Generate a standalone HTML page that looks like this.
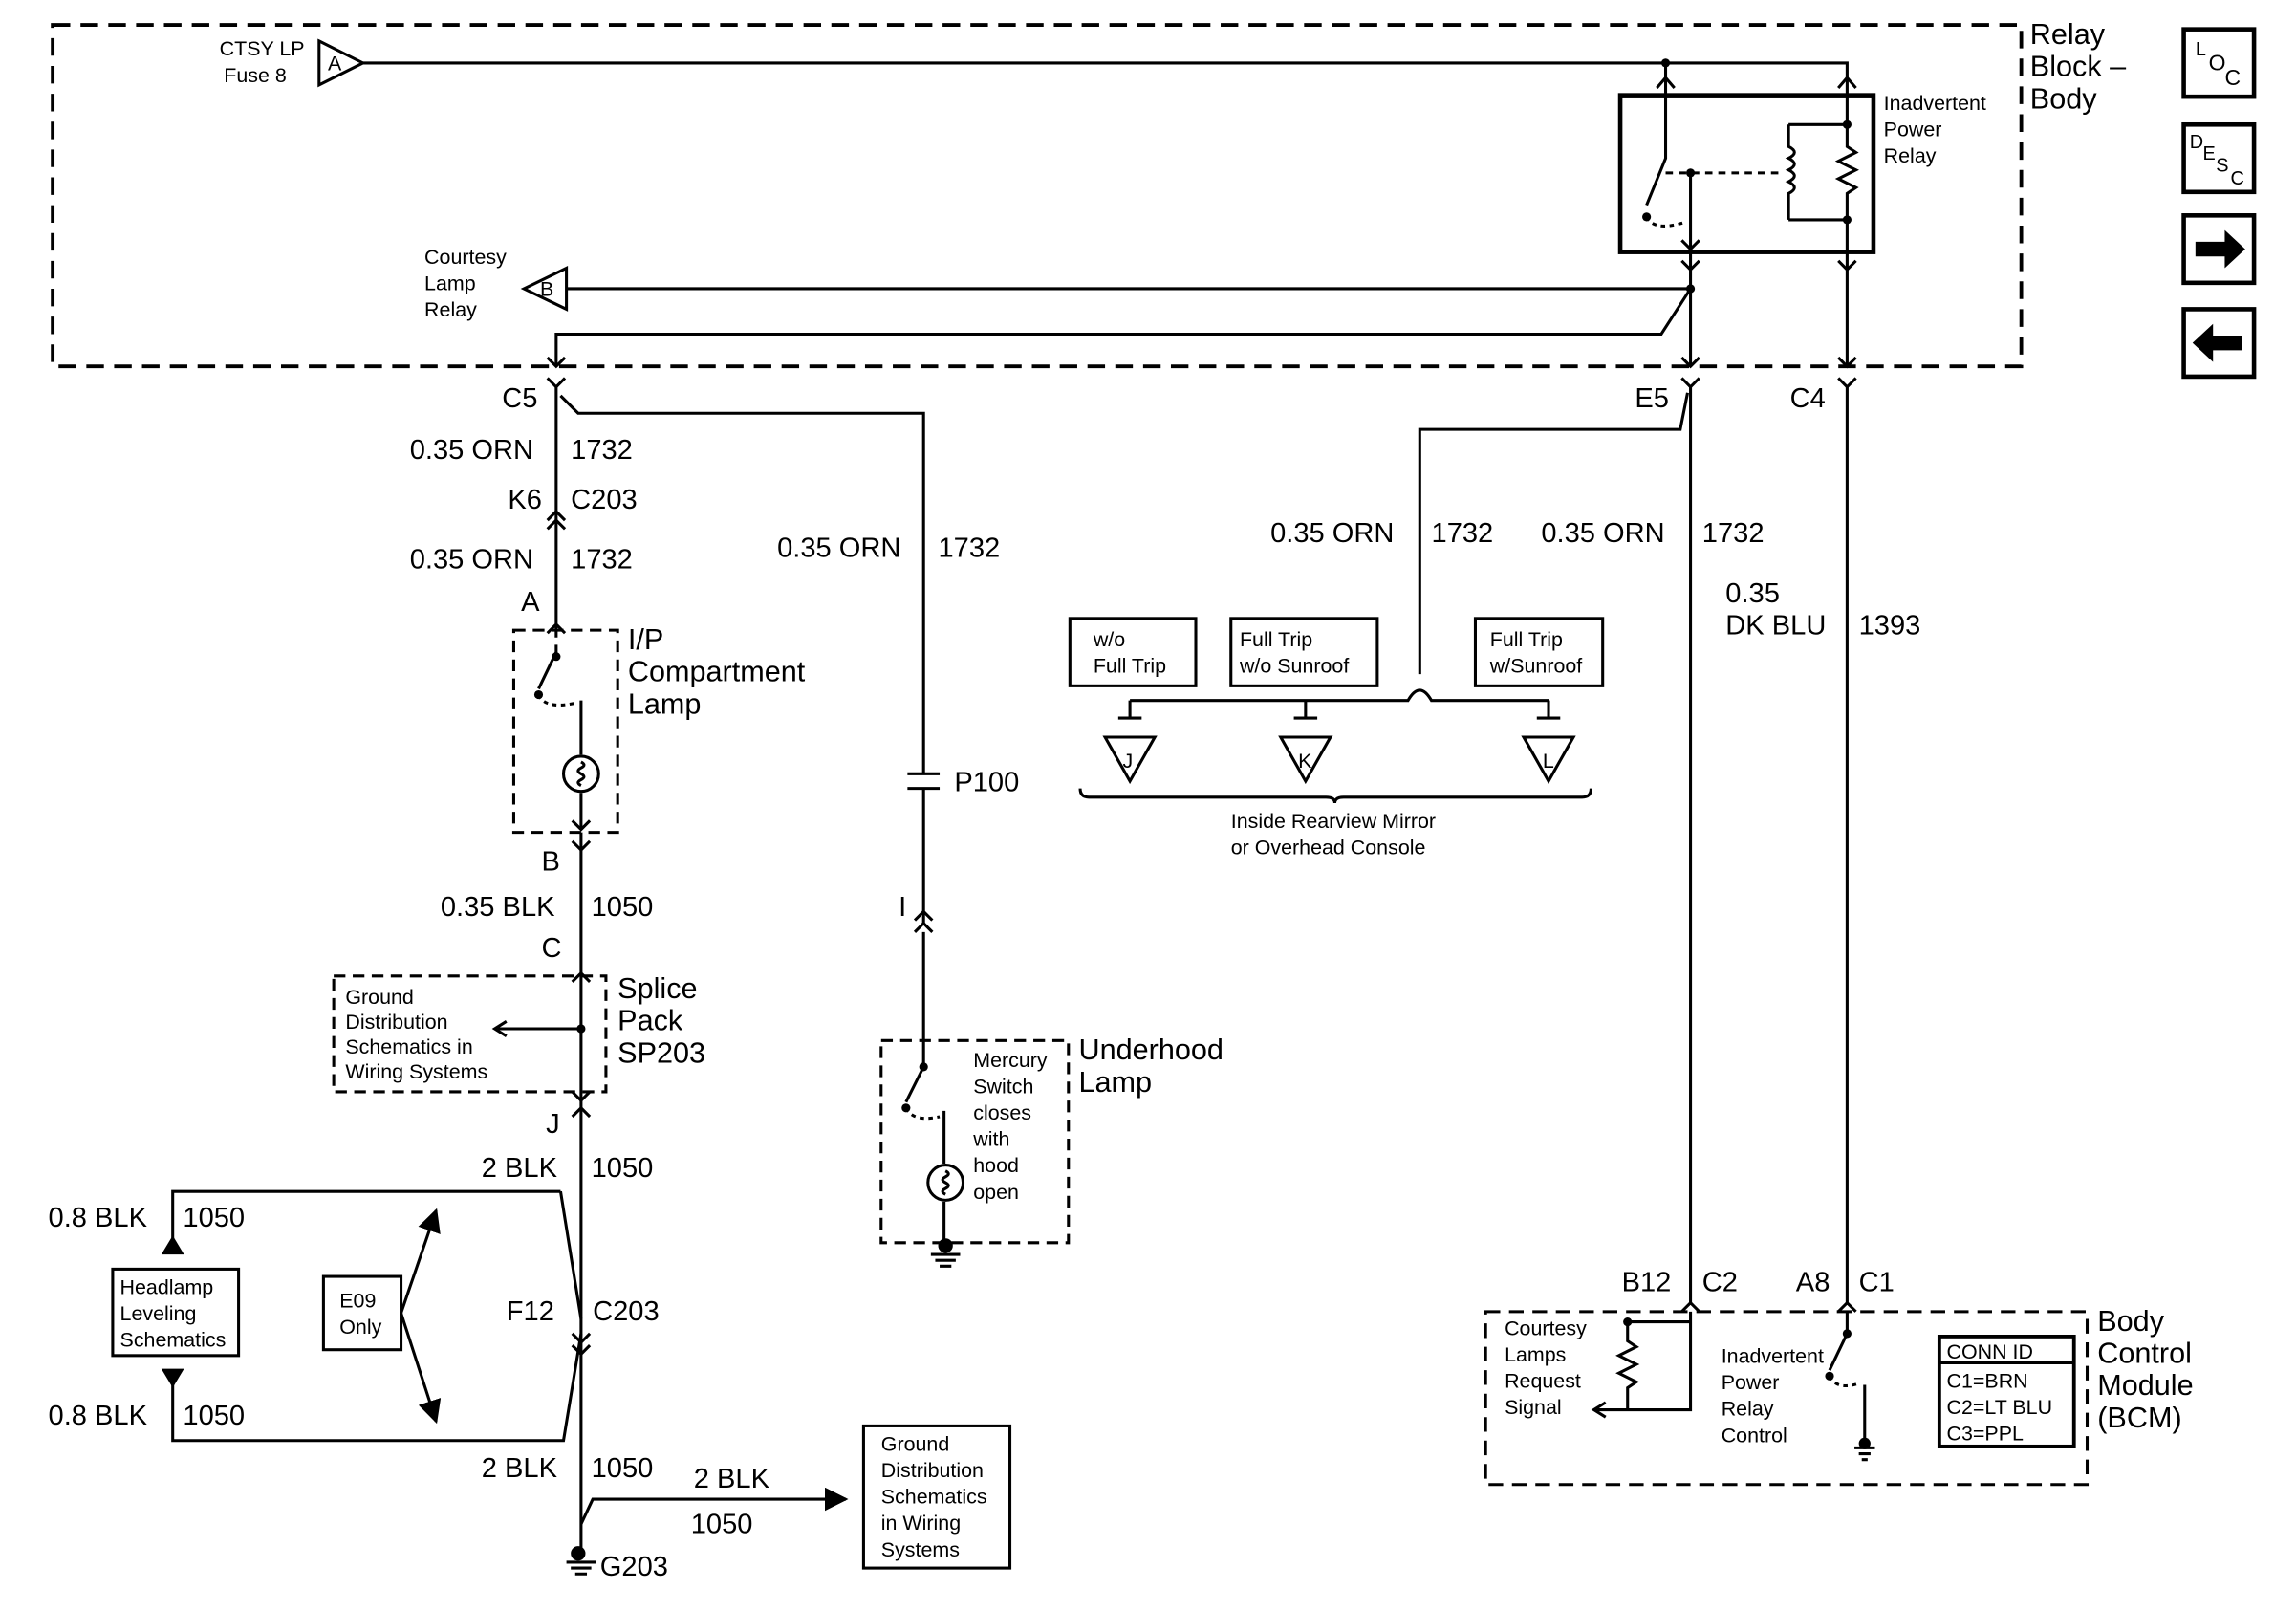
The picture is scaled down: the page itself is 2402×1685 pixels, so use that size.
<!DOCTYPE html>
<html><head><meta charset="utf-8"><style>
html,body{margin:0;padding:0;background:#fff}
svg{display:block}
text{font-family:"Liberation Sans",Arial,sans-serif;fill:#000}
.s{font-size:14px}.m{font-size:19px}.l{font-size:20px}
</style></head><body>
<svg width="2402" height="1685" viewBox="0 0 1553 1096" preserveAspectRatio="none" xmlns="http://www.w3.org/2000/svg">
<defs>
<marker id="ar" viewBox="0 0 10 10" refX="9" refY="5" markerWidth="8" markerHeight="8" orient="auto"><path d="M0,0L10,5L0,10z"/></marker>
</defs>
<g transform="scale(0.99,0.997)">
<g fill="none" stroke="#000" stroke-width="2">
<rect x="36" y="17" width="1345" height="233" stroke-dasharray="12,7" stroke-width="2.5"/>
<path d="M218,28L248,43L218,58z"/>
<path d="M248,43H1262V65M1138,43V65"/>
<path d="M1132,60L1138,53L1144,60M1256,60L1262,53L1268,60"/>
<rect x="1107" y="65" width="173" height="107" stroke-width="3"/>
<path d="M1138,65V108L1125,140"/>
<path d="M1125,148Q1130,158 1150,152" stroke-dasharray="3,3"/>
<path d="M1155,118V170M1149,164L1155,170L1161,164"/>
<path d="M1138,118H1218" stroke-dasharray="5,4"/>
<path d="M1222,85V100q8,4 0,8q8,4 0,8q8,4 0,8q8,4 0,8V150M1222,85H1262M1222,150H1262"/>
<path d="M1262,65V100l6,4l-12,6l12,6l-12,6l12,6l-6,4V172"/>
<path d="M1155,172V250M1262,172V250"/>
<path d="M1149,178L1155,184L1161,178M1256,178L1262,184L1268,178"/>
<path d="M358,197L387,183V211z"/>
<path d="M387,197H1155"/>
<path d="M1155,197L1135,228H380V250"/>
<path d="M374,244L380,250L386,244M1149,244L1155,250L1161,244M1256,244L1262,250L1268,244"/>
<path d="M374,258L380,264L386,258M1149,258L1155,264L1161,258M1256,258L1262,264L1268,258"/>
<path d="M380,264V425M383,270L395,282H631V528M631,538V630M631,636V728"/>
<path d="M374,355L380,349L386,355M374,361L380,355L386,361"/>
<path d="M1262,264V890"/>
<path d="M1155,264V890M1153,268L1148,293H970V460"/>
<rect x="731" y="422" width="86" height="46"/>
<rect x="841" y="422" width="100" height="46"/>
<rect x="1008" y="422" width="87" height="46"/>
<path d="M772,478H962q8,-14 16,0H1058"/>
<path d="M772,478V490M764,490H780M892,478V490M884,490H900M1058,478V490M1050,490H1066"/>
<path d="M755,503L789,503L772,533z M875,503L909,503L892,533z M1041,503L1075,503L1058,533z"/>
<path d="M738,538q0,6 6,6H906q6,0 6,4q0,-4 6,-4H1081q6,0 6,-6"/>
<rect x="351" y="430" width="71" height="138" stroke-dasharray="8,5"/>
<path d="M380,425V435M374,432L380,426L386,432M380,440V445L368,470M397,478V515M397,541V566M391,560L397,566L403,560"/>
<path d="M368,474Q372,484 392,480" stroke-dasharray="3,3"/>
<circle cx="397" cy="528" r="12"/>
<path d="M397,520q4,2 0,4q-4,2 0,4q4,2 0,4q-4,2 0,4"/>
<path d="M397,568V1062"/>
<path d="M391,574L397,580L403,574M391,670L397,664L403,670M391,745L397,751L403,745M391,762L397,756L403,762M391,910L397,916L403,910M391,918L397,924L403,918"/>
<rect x="228" y="666" width="186" height="79" stroke-dasharray="8,5"/>
<path d="M397,702H340M346,697L338,702L346,707"/>
<path d="M383,813H118V850M383,813L397,900M397,910L385,983H118V935"/>
<path d="M112,855L118,845L124,855z M112,935L118,945L124,935z" fill="#000"/>
<rect x="77" y="866" width="86" height="59"/>
<rect x="221" y="871" width="53" height="50"/>
<path d="M274,896L298,826" marker-end="url(#ar)"/>
<path d="M274,896L298,970" marker-end="url(#ar)"/>
<path d="M397,1040L405,1023H578" marker-end="url(#ar)"/>
<rect x="590" y="973" width="100" height="97"/>
<path d="M387,1066H407M390,1070H404M393,1074H401"/>
<path d="M620,528H642M620,538H642"/>
<path d="M625,628L631,622L637,628M625,636L631,630L637,636"/>
<rect x="602" y="710" width="128" height="138" stroke-dasharray="8,5"/>
<path d="M631,728L619,752M645,758V794M645,820V846"/>
<path d="M619,756Q624,766 642,762" stroke-dasharray="3,3"/>
<circle cx="646" cy="807" r="12"/>
<path d="M646,799q4,2 0,4q-4,2 0,4q4,2 0,4q-4,2 0,4"/>
<path d="M636,856H656M639,860H653M642,864H650"/>
<rect x="1015" y="895" width="411" height="118" stroke-dasharray="10,6"/>
<path d="M1149,895L1155,889L1161,895M1256,895L1262,889L1268,895"/>
<path d="M1155,895V962H1090M1097,957L1089,962L1097,967M1155,902H1112V915l6,4l-12,6l12,6l-12,6l12,6l-6,4V962"/>
<path d="M1262,895V910L1250,935M1274,945V986"/>
<path d="M1250,939Q1255,949 1270,944" stroke-dasharray="3,3"/>
<path d="M1267,988H1281M1270,992H1278M1272,996H1276"/>
<rect x="1325" y="912" width="92" height="75" stroke-width="2.5"/>
<path d="M1325,930H1417"/>
<rect x="1492" y="20" width="48" height="46" stroke-width="3"/>
<rect x="1492" y="85" width="48" height="46" stroke-width="3"/>
<rect x="1492" y="147" width="48" height="46" stroke-width="3"/>
<rect x="1492" y="211" width="48" height="46" stroke-width="3"/>
</g>
<g fill="#000">
<circle cx="1138" cy="43" r="3"/><circle cx="1125" cy="148" r="3"/><circle cx="1155" cy="118" r="3"/>
<circle cx="1262" cy="85" r="3"/><circle cx="1262" cy="150" r="3"/><circle cx="1155" cy="197" r="3"/>
<circle cx="380" cy="448" r="3"/><circle cx="368" cy="474" r="3"/><circle cx="397" cy="702" r="3"/>
<circle cx="631" cy="728" r="3"/><circle cx="619" cy="756" r="3"/><circle cx="1112" cy="902" r="3"/>
<circle cx="1262" cy="910" r="3"/><circle cx="1250" cy="939" r="3"/>
<circle cx="395" cy="1060" r="5"/><circle cx="646" cy="850" r="5"/><circle cx="1274" cy="985" r="4"/>
<path d="M1500,165H1520V157L1534,170L1520,183V175H1500z"/>
<path d="M1532,229H1512V221L1498,234L1512,247V239H1532z"/>
</g>
<text class="s" x="150" y="38">CTSY LP</text><text class="s" x="153" y="56">Fuse 8</text>
<text class="s" x="224" y="48">A</text><text class="s" x="369" y="202">B</text>
<text class="s" x="290" y="180">Courtesy</text><text class="s" x="290" y="198">Lamp</text><text class="s" x="290" y="216">Relay</text>
<text class="s" x="1287" y="75">Inadvertent</text><text class="s" x="1287" y="93">Power</text><text class="s" x="1287" y="111">Relay</text>
<text class="l" x="1387" y="30">Relay</text><text class="l" x="1387" y="52">Block –</text><text class="l" x="1387" y="74">Body</text>
<text class="m" x="343" y="278">C5</text><text class="m" x="1117" y="278">E5</text><text class="m" x="1223" y="278">C4</text>
<text class="m" x="280" y="313">0.35 ORN</text><text class="m" x="390" y="313">1732</text>
<text class="m" x="347" y="347">K6</text><text class="m" x="390" y="347">C203</text>
<text class="m" x="280" y="388">0.35 ORN</text><text class="m" x="390" y="388">1732</text>
<text class="m" x="531" y="380">0.35 ORN</text><text class="m" x="641" y="380">1732</text>
<text class="m" x="868" y="370">0.35 ORN</text><text class="m" x="978" y="370">1732</text>
<text class="m" x="1053" y="370">0.35 ORN</text><text class="m" x="1163" y="370">1732</text>
<text class="m" x="1179" y="411">0.35</text><text class="m" x="1179" y="433">DK BLU</text><text class="m" x="1270" y="433">1393</text>
<text class="s" x="747" y="441">w/o</text><text class="s" x="747" y="459">Full Trip</text>
<text class="s" x="847" y="441">Full Trip</text><text class="s" x="847" y="459">w/o Sunroof</text>
<text class="s" x="1018" y="441">Full Trip</text><text class="s" x="1018" y="459">w/Sunroof</text>
<text class="s" x="767" y="524">J</text><text class="s" x="887" y="524">K</text><text class="s" x="1054" y="524">L</text>
<text class="s" x="841" y="565">Inside Rearview Mirror</text><text class="s" x="841" y="583">or Overhead Console</text>
<text class="m" x="356" y="417">A</text>
<text class="l" x="429" y="443">I/P</text><text class="l" x="429" y="465">Compartment</text><text class="l" x="429" y="487">Lamp</text>
<text class="m" x="370" y="594">B</text>
<text class="m" x="301" y="625">0.35 BLK</text><text class="m" x="404" y="625">1050</text>
<text class="m" x="370" y="653">C</text>
<text class="l" x="422" y="681">Splice</text><text class="l" x="422" y="703">Pack</text><text class="l" x="422" y="725">SP203</text>
<text class="s" x="236" y="685">Ground</text><text class="s" x="236" y="702">Distribution</text><text class="s" x="236" y="719">Schematics in</text><text class="s" x="236" y="736">Wiring Systems</text>
<text class="m" x="373" y="773">J</text>
<text class="m" x="329" y="803">2 BLK</text><text class="m" x="404" y="803">1050</text>
<text class="m" x="33" y="837">0.8 BLK</text><text class="m" x="125" y="837">1050</text>
<text class="s" x="82" y="883">Headlamp</text><text class="s" x="82" y="901">Leveling</text><text class="s" x="82" y="919">Schematics</text>
<text class="s" x="232" y="892">E09</text><text class="s" x="232" y="910">Only</text>
<text class="m" x="346" y="901">F12</text><text class="m" x="405" y="901">C203</text>
<text class="m" x="33" y="972">0.8 BLK</text><text class="m" x="125" y="972">1050</text>
<text class="m" x="329" y="1008">2 BLK</text><text class="m" x="404" y="1008">1050</text>
<text class="m" x="474" y="1015">2 BLK</text><text class="m" x="472" y="1046">1050</text>
<text class="s" x="602" y="990">Ground</text><text class="s" x="602" y="1008">Distribution</text><text class="s" x="602" y="1026">Schematics</text><text class="s" x="602" y="1044">in Wiring</text><text class="s" x="602" y="1062">Systems</text>
<text class="m" x="410" y="1075">G203</text>
<text class="m" x="652" y="540">P100</text><text class="m" x="614" y="625">I</text>
<text class="l" x="737" y="723">Underhood</text><text class="l" x="737" y="745">Lamp</text>
<text class="s" x="665" y="728">Mercury</text><text class="s" x="665" y="746">Switch</text><text class="s" x="665" y="764">closes</text><text class="s" x="665" y="782">with</text><text class="s" x="665" y="800">hood</text><text class="s" x="665" y="818">open</text>
<text class="m" x="1108" y="881">B12</text><text class="m" x="1163" y="881">C2</text><text class="m" x="1227" y="881">A8</text><text class="m" x="1270" y="881">C1</text>
<text class="l" x="1433" y="908">Body</text><text class="l" x="1433" y="930">Control</text><text class="l" x="1433" y="952">Module</text><text class="l" x="1433" y="974">(BCM)</text>
<text class="s" x="1028" y="911">Courtesy</text><text class="s" x="1028" y="929">Lamps</text><text class="s" x="1028" y="947">Request</text><text class="s" x="1028" y="965">Signal</text>
<text class="s" x="1176" y="930">Inadvertent</text><text class="s" x="1176" y="948">Power</text><text class="s" x="1176" y="966">Relay</text><text class="s" x="1176" y="984">Control</text>
<text class="s" x="1330" y="927">CONN ID</text><text class="s" x="1330" y="947">C1=BRN</text><text class="s" x="1330" y="965">C2=LT BLU</text><text class="s" x="1330" y="983">C3=PPL</text>
<text style="font-size:13px" x="1500" y="38">L</text><text style="font-size:15px" x="1509" y="48">O</text><text style="font-size:15px" x="1520" y="58">C</text>
<text style="font-size:13px" x="1496" y="101">D</text><text style="font-size:13px" x="1505" y="109">E</text><text style="font-size:13px" x="1514" y="117">S</text><text style="font-size:13px" x="1524" y="126">C</text>
</g>
</svg>
</body></html>
